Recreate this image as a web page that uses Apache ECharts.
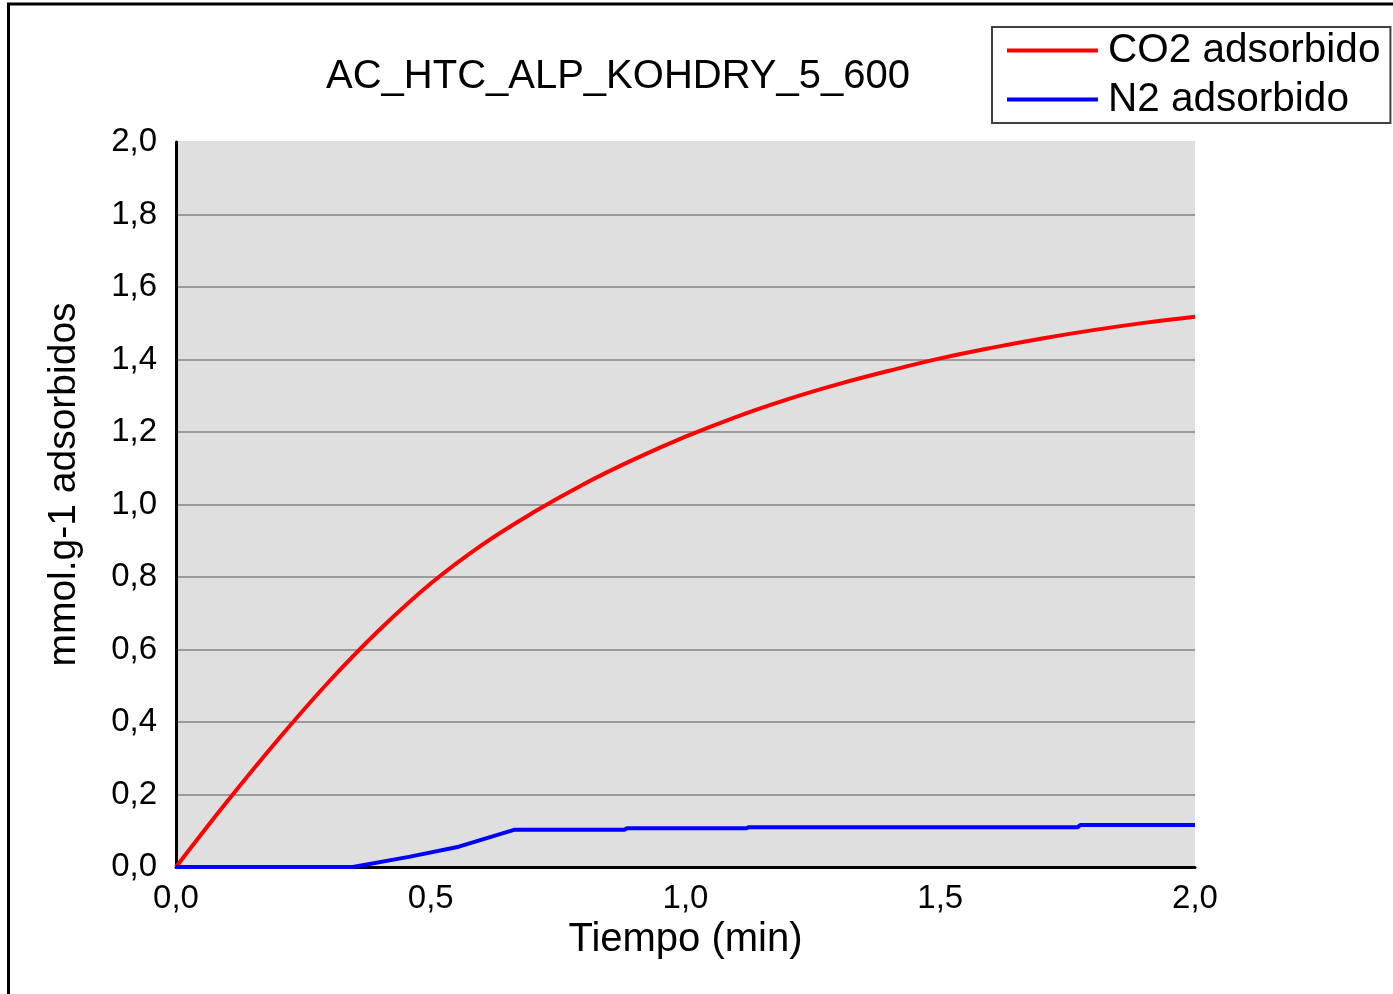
<!DOCTYPE html>
<html>
<head>
<meta charset="utf-8">
<script src="https://cdn.jsdelivr.net/npm/echarts@6/dist/echarts.min.js"></script>
<style>
html,body{margin:0;padding:0;background:#fff;}
#chart{width:1393px;height:994px;}
</style>
</head>
<body>
<div id="chart"></div>
<script>
const chartTitle = 'AC_HTC_ALP_KOHDRY_5_600';
const seriesNames = ['CO2 adsorbido', 'N2 adsorbido'];
const xAxisName = 'Tiempo (min)';
const yAxisName = 'mmol.g-1 adsorbidos';

const co2Time = [0.0, 0.1, 0.2, 0.3, 0.4, 0.5, 0.6, 0.7, 0.8, 0.9, 1.0, 1.1, 1.2, 1.3, 1.4, 1.5, 1.6, 1.7, 1.8, 1.9, 2.0];
const co2Values = [0.0, 0.180, 0.351, 0.511, 0.655, 0.782, 0.888, 0.977, 1.056, 1.125, 1.187, 1.242, 1.290, 1.332, 1.369, 1.403, 1.432, 1.458, 1.481, 1.501, 1.518];

const n2Time = [0.0, 0.07, 0.347, 0.457, 0.555, 0.665, 0.88, 0.885, 1.12, 1.125, 1.77, 1.775, 2.0];
const n2Values = [0.0, 0.0, 0.0, 0.028, 0.056, 0.103, 0.103, 0.107, 0.107, 0.110, 0.110, 0.116, 0.116];

const yTicks = { min: 0, max: 2, interval: 0.2 };
const xTicks = { min: 0, max: 2, interval: 0.5 };

const font = 'Liberation Sans, Arial, sans-serif';
const fmt = v => v.toFixed(1).replace('.', ',');

const co2Data = co2Time.map((t, i) => [t, co2Values[i]]);
const n2Data = n2Time.map((t, i) => [t, n2Values[i]]);

const gridColors = [];
for (let i = 0; i < 10; i++) gridColors.push('#9a9a9a');
gridColors.push('#dfdfdf');

const chart = echarts.init(document.getElementById('chart'), null, { renderer: 'canvas' });
chart.setOption({
  animation: false,
  backgroundColor: '#ffffff',
  textStyle: { fontFamily: font },
  title: {
    text: chartTitle,
    left: 613,
    top: 52,
    textAlign: 'center',
    textStyle: { fontFamily: font, fontSize: 40, fontWeight: 'normal', color: '#000' }
  },
  legend: {
    orient: 'vertical',
    left: 992,
    top: 27,
    padding: [3, 10, 3, 15],
    itemGap: 8,
    itemWidth: 91,
    itemHeight: 4,
    icon: 'rect',
    borderColor: '#404040',
    borderWidth: 2,
    backgroundColor: '#fff',
    textStyle: { fontFamily: font, fontSize: 40.5, color: '#000', padding: [0, 0, 0, 5] },
    data: seriesNames
  },
  grid: {
    left: 176, right: 198, top: 142, bottom: 127,
    show: true, backgroundColor: '#dfdfdf', borderWidth: 0,
    containLabel: false
  },
  xAxis: {
    type: 'value',
    min: xTicks.min, max: xTicks.max, interval: xTicks.interval,
    name: xAxisName,
    nameLocation: 'middle',
    nameGap: 47,
    nameTextStyle: { fontFamily: font, fontSize: 40, color: '#000' },
    axisLine: { show: true, onZero: false, lineStyle: { color: '#000', width: 3 } },
    axisTick: { show: false },
    splitLine: { show: false },
    axisLabel: { formatter: fmt, fontFamily: font, fontSize: 33, color: '#000', margin: 15 }
  },
  yAxis: {
    type: 'value',
    min: yTicks.min, max: yTicks.max, interval: yTicks.interval,
    name: yAxisName,
    nameLocation: 'middle',
    nameGap: 92,
    nameRotate: 90,
    nameTextStyle: { fontFamily: font, fontSize: 39, color: '#000', padding: [0, 0, 0, 40] },
    axisLine: { show: true, lineStyle: { color: '#000', width: 3 } },
    axisTick: { show: false },
    splitLine: { show: true, lineStyle: { color: gridColors, width: 2 } },
    axisLabel: { formatter: fmt, fontFamily: font, fontSize: 33, color: '#000', margin: 19 }
  },
  series: [
    {
      name: seriesNames[0], type: 'line', data: co2Data,
      smooth: 0.4, showSymbol: false, symbol: 'none',
      lineStyle: { color: '#ff0000', width: 4 }, itemStyle: { color: '#ff0000' }, z: 3
    },
    {
      name: seriesNames[1], type: 'line', data: n2Data,
      showSymbol: false, symbol: 'none',
      lineStyle: { color: '#0000ff', width: 4 }, itemStyle: { color: '#0000ff' }, z: 4
    }
  ],
  graphic: [
    {
      type: 'rect', silent: true, z: 100,
      shape: { x: 8.5, y: 4, width: 1400, height: 1000 },
      style: { fill: 'none', stroke: '#000', lineWidth: 3 }
    }
  ]
});
</script>
</body>
</html>
